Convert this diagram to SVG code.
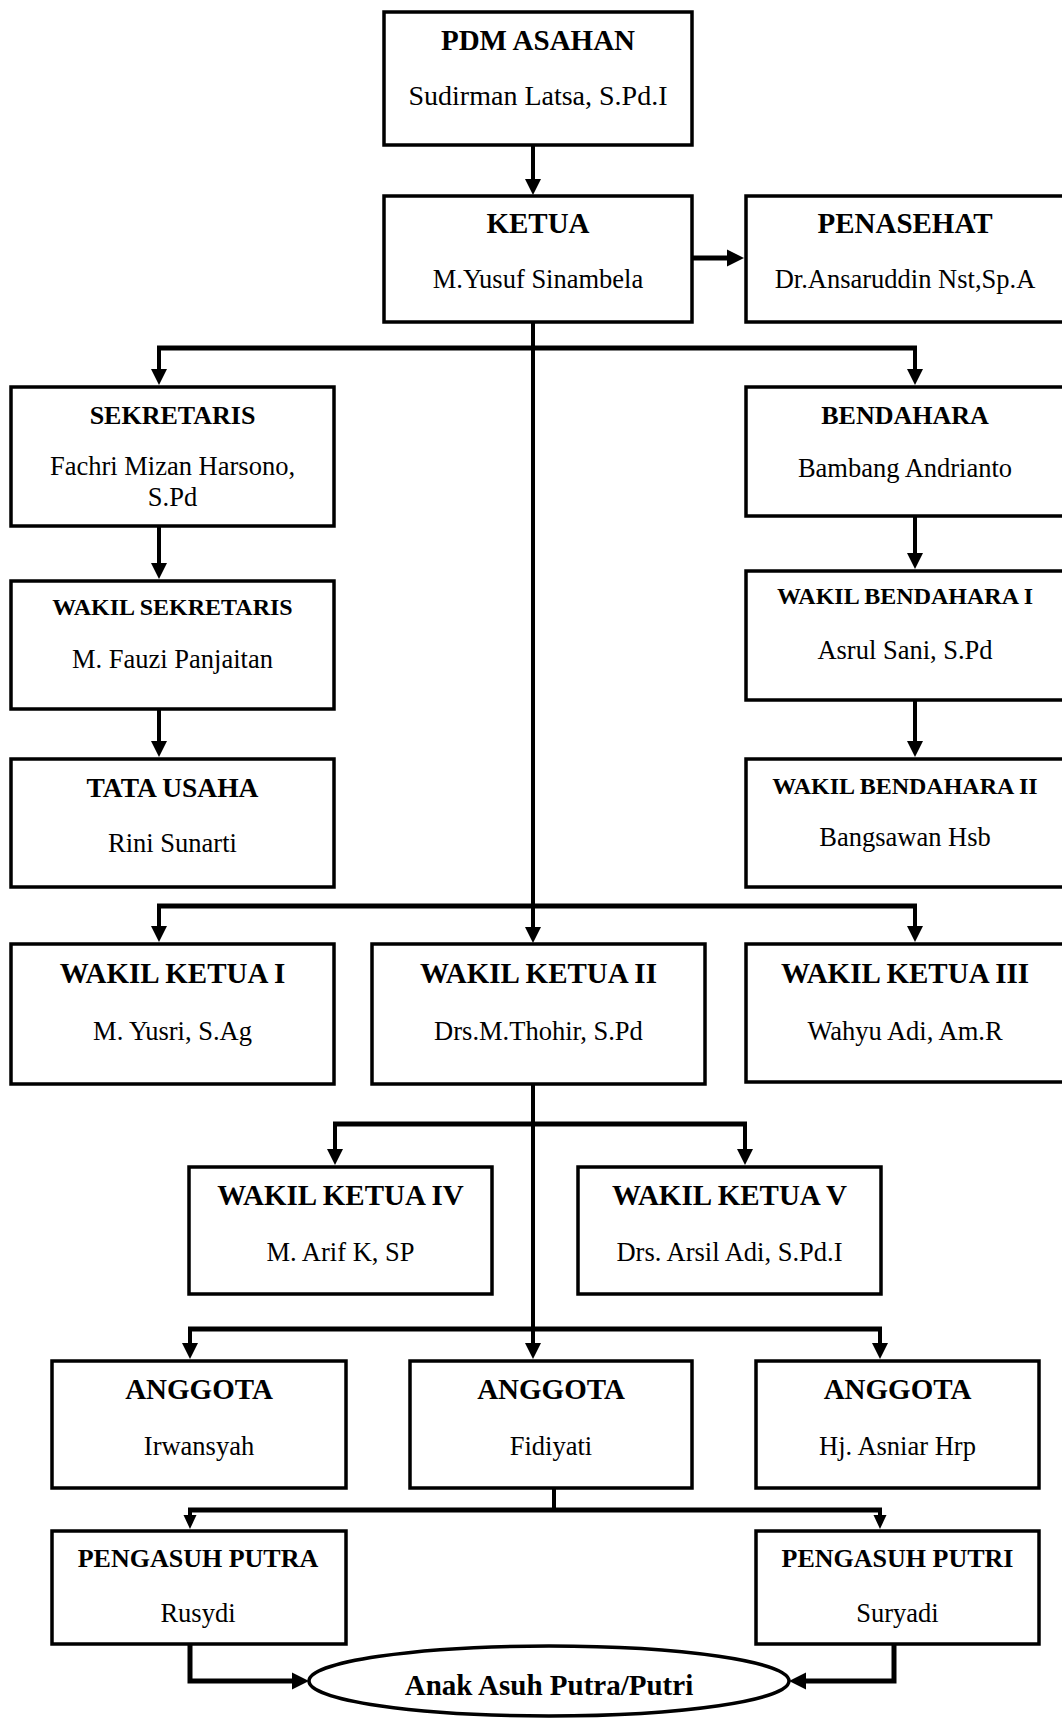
<svg xmlns="http://www.w3.org/2000/svg" xmlns:xlink="http://www.w3.org/1999/xlink" width="1062" height="1718" viewBox="0 0 1062 1718">
<style>
.box{fill:#fff;stroke:#000;stroke-width:3.5}
.ln{fill:none;stroke:#000;stroke-width:4}
.lh{fill:none;stroke:#000;stroke-width:5}
.t{font-family:"Liberation Serif","Times New Roman",serif;font-weight:bold;font-size:29px;text-anchor:middle;fill:#000}
.t26{font-size:26px}
.t24{font-size:24px}
.t27{font-size:27.5px}
.n{font-family:"Liberation Serif","Times New Roman",serif;font-size:26.5px;text-anchor:middle;fill:#000}
.n28{font-size:28px}
</style>
<defs>
<path id="ad" d="M-8,-16 L8,-16 L0,0 Z" fill="#000"/>
<path id="ads" d="M-6.5,-14 L6.5,-14 L0,0 Z" fill="#000"/>
<path id="ar" d="M-17,-8.5 L-17,8.5 L0,0 Z" fill="#000"/>
<path id="al" d="M17,-8.5 L17,8.5 L0,0 Z" fill="#000"/>
</defs>
<rect width="1062" height="1718" fill="#fff"/>
<g id="connectors">
<path class="ln" d="M533,146 V180"/><use xlink:href="#ad" x="533" y="195"/>
<path class="lh" d="M693,258 H729"/><use xlink:href="#ar" x="744" y="258"/>
<path class="ln" d="M533,322 V928"/><use xlink:href="#ad" x="533" y="943"/>
<path class="lh" d="M157,348 H917"/>
<path class="ln" d="M159,346 V370"/><use xlink:href="#ad" x="159" y="385"/>
<path class="ln" d="M915,346 V370"/><use xlink:href="#ad" x="915" y="385"/>
<path class="ln" d="M159,527 V564"/><use xlink:href="#ad" x="159" y="579"/>
<path class="ln" d="M159,710 V742"/><use xlink:href="#ad" x="159" y="757"/>
<path class="ln" d="M915,517 V554"/><use xlink:href="#ad" x="915" y="569"/>
<path class="ln" d="M915,701 V742"/><use xlink:href="#ad" x="915" y="757"/>
<path class="lh" d="M157,906 H917"/>
<path class="ln" d="M159,904 V927"/><use xlink:href="#ad" x="159" y="942"/>
<path class="ln" d="M915,904 V927"/><use xlink:href="#ad" x="915" y="942"/>
<path class="ln" d="M533,1085 V1344"/><use xlink:href="#ad" x="533" y="1359"/>
<path class="lh" d="M333,1124 H747"/>
<path class="ln" d="M335,1122 V1150"/><use xlink:href="#ad" x="335" y="1165"/>
<path class="ln" d="M745,1122 V1150"/><use xlink:href="#ad" x="745" y="1165"/>
<path class="lh" d="M188,1329 H882"/>
<path class="ln" d="M190,1327 V1344"/><use xlink:href="#ad" x="190" y="1359"/>
<path class="ln" d="M880,1327 V1344"/><use xlink:href="#ad" x="880" y="1359"/>
<path class="ln" d="M554,1489 V1510"/>
<path class="lh" d="M188,1510 H882"/>
<path class="ln" d="M190,1508 V1516"/><use xlink:href="#ads" x="190" y="1529"/>
<path class="ln" d="M880,1508 V1516"/><use xlink:href="#ads" x="880" y="1529"/>
<path class="lh" d="M190,1645 V1681 H293"/><use xlink:href="#ar" x="309" y="1681"/>
<path class="lh" d="M894,1645 V1681 H805"/><use xlink:href="#al" x="789" y="1681"/>
</g>
<g id="pdm"><rect class="box" x="384" y="12" width="308" height="133"/><text class="t" x="538" y="50">PDM ASAHAN</text><text class="n n28" x="538" y="105">Sudirman Latsa, S.Pd.I</text></g>
<g id="ketua"><rect class="box" x="384" y="196" width="308" height="126"/><text class="t" x="538" y="233">KETUA</text><text class="n" x="538" y="288">M.Yusuf Sinambela</text></g>
<g id="penasehat"><rect class="box" x="746" y="196" width="320" height="126"/><text class="t" x="905" y="233">PENASEHAT</text><text class="n" x="905" y="288">Dr.Ansaruddin Nst,Sp.A</text></g>
<g id="sekretaris"><rect class="box" x="11" y="387" width="323" height="139"/><text class="t t26" x="172.5" y="424">SEKRETARIS</text><text class="n" x="172.5" y="474.5">Fachri Mizan Harsono,</text><text class="n" x="172.5" y="506">S.Pd</text></g>
<g id="bendahara"><rect class="box" x="746" y="387" width="320" height="129"/><text class="t t26" x="905" y="424">BENDAHARA</text><text class="n" x="905" y="477">Bambang Andrianto</text></g>
<g id="wakil-sekretaris"><rect class="box" x="11" y="581" width="323" height="128"/><text class="t t24" x="172.5" y="615">WAKIL SEKRETARIS</text><text class="n" x="172.5" y="667.5">M. Fauzi Panjaitan</text></g>
<g id="tata-usaha"><rect class="box" x="11" y="759" width="323" height="128"/><text class="t t27" x="172.5" y="797">TATA USAHA</text><text class="n" x="172.5" y="852">Rini Sunarti</text></g>
<g id="wakil-bendahara-1"><rect class="box" x="746" y="571" width="320" height="129"/><text class="t t24" x="905" y="604">WAKIL BENDAHARA I</text><text class="n" x="905" y="659">Asrul Sani, S.Pd</text></g>
<g id="wakil-bendahara-2"><rect class="box" x="746" y="759" width="320" height="128"/><text class="t t24" x="905" y="794">WAKIL BENDAHARA II</text><text class="n" x="905" y="846">Bangsawan Hsb</text></g>
<g id="wakil-ketua-1"><rect class="box" x="11" y="944" width="323" height="140"/><text class="t" x="172.5" y="983">WAKIL KETUA I</text><text class="n" x="172.5" y="1040">M. Yusri, S.Ag</text></g>
<g id="wakil-ketua-2"><rect class="box" x="372" y="944" width="333" height="140"/><text class="t" x="538.5" y="983">WAKIL KETUA II</text><text class="n" x="538.5" y="1040">Drs.M.Thohir, S.Pd</text></g>
<g id="wakil-ketua-3"><rect class="box" x="746" y="944" width="320" height="138"/><text class="t" x="905" y="983">WAKIL KETUA III</text><text class="n" x="905" y="1040">Wahyu Adi, Am.R</text></g>
<g id="wakil-ketua-4"><rect class="box" x="189" y="1167" width="303" height="127"/><text class="t" x="340.5" y="1205">WAKIL KETUA IV</text><text class="n" x="340.5" y="1261">M. Arif K, SP</text></g>
<g id="wakil-ketua-5"><rect class="box" x="578" y="1167" width="303" height="127"/><text class="t" x="729.5" y="1205">WAKIL KETUA V</text><text class="n" x="729.5" y="1261">Drs. Arsil Adi, S.Pd.I</text></g>
<g id="anggota-1"><rect class="box" x="52" y="1361" width="294" height="127"/><text class="t" x="199" y="1399">ANGGOTA</text><text class="n" x="199" y="1455">Irwansyah</text></g>
<g id="anggota-2"><rect class="box" x="410" y="1361" width="282" height="127"/><text class="t" x="551" y="1399">ANGGOTA</text><text class="n" x="551" y="1455">Fidiyati</text></g>
<g id="anggota-3"><rect class="box" x="756" y="1361" width="283" height="127"/><text class="t" x="897.5" y="1399">ANGGOTA</text><text class="n" x="897.5" y="1455">Hj. Asniar Hrp</text></g>
<g id="pengasuh-putra"><rect class="box" x="52" y="1531" width="294" height="113"/><text class="t t26" x="198" y="1567">PENGASUH PUTRA</text><text class="n" x="198" y="1622">Rusydi</text></g>
<g id="pengasuh-putri"><rect class="box" x="756" y="1531" width="283" height="113"/><text class="t t26" x="897.5" y="1567">PENGASUH PUTRI</text><text class="n" x="897.5" y="1622">Suryadi</text></g>
<g id="anak-asuh"><ellipse class="box" cx="549" cy="1681" rx="240" ry="35"/><text class="t" x="549" y="1695">Anak Asuh Putra/Putri</text></g>
</svg>
